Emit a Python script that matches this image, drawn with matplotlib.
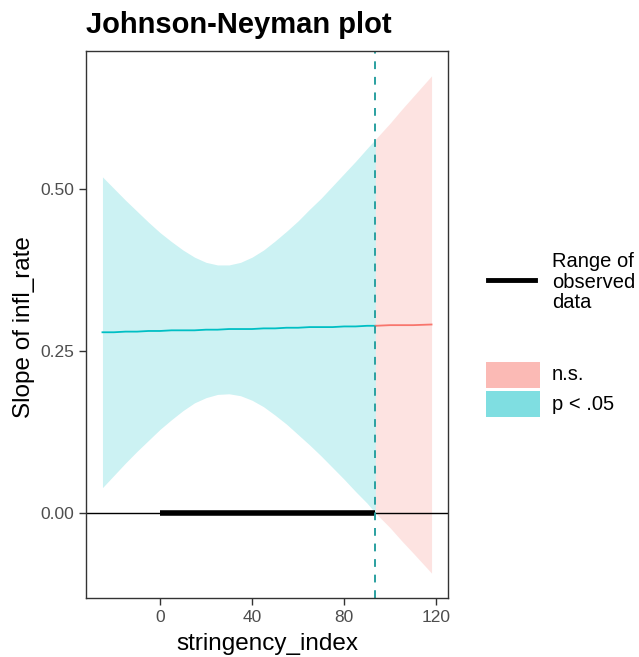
import matplotlib
matplotlib.use("Agg")
import matplotlib.pyplot as plt
from matplotlib.lines import Line2D
from matplotlib.patches import Rectangle
import numpy as np

plt.rcParams['font.family'] = ['Liberation Sans', 'DejaVu Sans']

# values
mod_x = [-25, -20, -15, -10, -5, 0, 5, 10, 15, 20, 25, 30, 35, 40, 45, 50,
         55, 60, 65, 70, 75, 80, 85, 90, 93.6, 100, 105, 110, 118]
slope = [0.279, 0.279, 0.280, 0.280, 0.281, 0.281, 0.282, 0.282, 0.282,
         0.283, 0.283, 0.284, 0.284, 0.284, 0.285, 0.285, 0.286, 0.286,
         0.287, 0.287, 0.287, 0.288, 0.288, 0.289, 0.289, 0.290, 0.290,
         0.290, 0.291]
ci_upper = [0.519, 0.501, 0.483, 0.466, 0.449, 0.433, 0.419, 0.406, 0.395,
            0.387, 0.383, 0.383, 0.387, 0.395, 0.406, 0.420, 0.435, 0.451,
            0.469, 0.486, 0.505, 0.524, 0.543, 0.563, 0.577, 0.602, 0.623,
            0.643, 0.675]
ci_lower = [0.039, 0.058, 0.077, 0.095, 0.112, 0.129, 0.144, 0.158, 0.170,
            0.178, 0.183, 0.184, 0.181, 0.174, 0.164, 0.151, 0.137, 0.121,
            0.105, 0.088, 0.070, 0.052, 0.033, 0.015, 0.000, -0.023, -0.043,
            -0.062, -0.093]
jn_cutoff = 93.6
observed_range = [0, 93.5]
x_ticks = [0, 40, 80, 120]
y_ticks = [0.00, 0.25, 0.50]
y_ticklabels = ['0.00', '0.25', '0.50']

teal = '#00BFC4'
salmon = '#F8766D'

x = np.array(mod_x)
lo = np.array(ci_lower)
hi = np.array(ci_upper)
est = np.array(slope)
sig = x <= jn_cutoff
ns = x >= jn_cutoff

W, H = 639, 657
fig = plt.figure(figsize=(W / 100, H / 100), dpi=100)
ax = fig.add_axes([86 / W, 1 - 598 / H, (448 - 86) / W, (598 - 51) / H])

ax.fill_between(x[sig], lo[sig], hi[sig], color=teal, alpha=0.2, lw=0)
ax.fill_between(x[ns], lo[ns], hi[ns], color=salmon, alpha=0.2, lw=0)
ax.plot(x[sig], est[sig], color=teal, lw=1.3)
ax.plot(x[ns], est[ns], color=salmon, lw=1.3)

ax.axhline(0, color='black', lw=1.0)
ax.plot(observed_range, [0, 0], color='black', lw=4, solid_capstyle='butt')
ax.axvline(jn_cutoff, color='#2aa0a0', lw=1.4, ls=(0, (4, 4)))

span = x.max() - x.min()
ax.set_xlim(x.min() - 0.05 * span, x.max() + 0.05 * span)
yspan = hi.max() - lo.min()
ax.set_ylim(lo.min() - 0.05 * yspan, hi.max() + 0.05 * yspan)

ax.set_xticks(x_ticks)
ax.set_yticks(y_ticks)
ax.set_yticklabels(y_ticklabels)
ax.tick_params(colors='#333333', labelcolor='#4d4d4d', labelsize=12.5,
               length=5, width=1.0)
for s in ax.spines.values():
    s.set_color('#333333')
    s.set_linewidth(1.0)

fig.text(267 / W, 1 - 650 / H, 'stringency_index', fontsize=17.5,
         ha='center', va='baseline')
fig.text(24 / W, 1 - 327 / H, 'Slope of infl_rate', fontsize=17.5,
         ha='center', va='center', rotation=90)
fig.text(86 / W, 1 - 33 / H, 'Johnson-Neyman plot', fontsize=21,
         fontweight='bold', ha='left', va='baseline')

# legends, drawn by hand to sit where the reference has them
fig.add_artist(Line2D([488 / W, 535 / W], [1 - 280 / H] * 2,
                      color='black', lw=3.5, transform=fig.transFigure))
fig.text(552 / W, 1 - 282 / H, 'Range of\nobserved\ndata', fontsize=14.5,
         ha='left', va='center', linespacing=1.12)
for y0, col, lab in [(362, salmon, 'n.s.'), (391, teal, 'p < .05')]:
    fig.add_artist(Rectangle((486 / W, 1 - (y0 + 26) / H), 54 / W, 26 / H,
                             facecolor=col, alpha=0.5, lw=0,
                             transform=fig.transFigure))
    fig.text(552 / W, 1 - (y0 + 13) / H, lab, fontsize=14.5,
             ha='left', va='center')

fig.savefig('out.png', dpi=100)
